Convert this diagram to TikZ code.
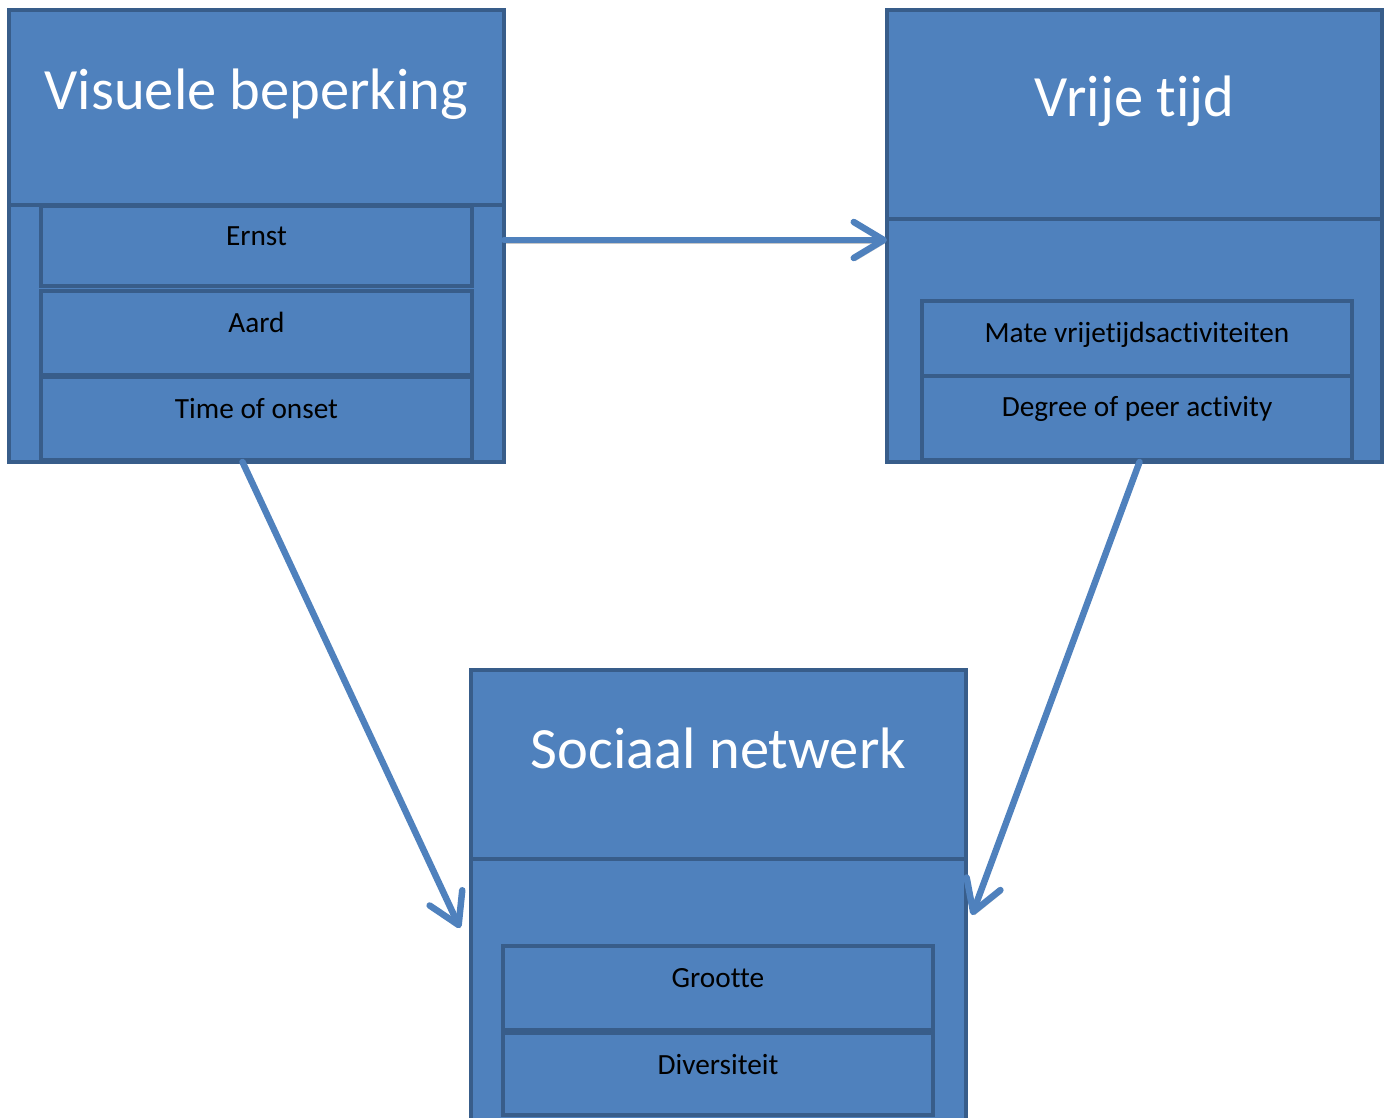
\documentclass[tikz,border=0pt]{standalone}
\usepackage{fontspec}
\setmainfont{Carlito}[Ligatures={NoCommon}]
\usetikzlibrary{arrows.meta,calc}
\definecolor{boxfill}{HTML}{4F81BD}
\definecolor{boxline}{HTML}{385D8A}
\tikzset{
  panel/.style={rectangle, draw=boxline, fill=boxfill, line width=4pt,
    inner sep=0pt, outer sep=0pt, anchor=north west},
  subbox/.style={panel, minimum width=431pt},
  title/.style={text=white, font=\fontsize{58.5}{60}\selectfont, anchor=base, inner sep=0pt},
  item/.style={text=black, font=\fontsize{29.3}{30}\selectfont, anchor=base, inner sep=0pt},
  link/.style={draw=boxfill, line width=6.5pt, line cap=round,
    -{Straight Barb[length=30pt, width=36pt, round]},
    preaction={draw=black, opacity=0.22, transform canvas={shift={(1.5pt,-3pt)}}}}
}
\begin{document}
\begin{tikzpicture}[x=1pt, y=-1pt]
\clip (0,0) rectangle (1384,1118);
\fill[white] (0,0) rectangle (1384,1118);

% Visuele beperking
\node[panel, minimum width=495pt, minimum height=195pt] (lhead) at (9,10) {};
\node[panel, minimum width=495pt, minimum height=257pt] (lbody) at (9,205) {};
\node[subbox, minimum height=80pt] (ernst) at (41,206) {};
\node[subbox, minimum height=84pt] (aard) at (41,291) {};
\node[subbox, minimum height=83pt] (onset) at (41,377) {};
\node[title] (ltitle) at (256.5,110) {Visuele beperking};
\node[item] at ([yshift=-40pt]ernst.north) {Ernst};
\node[item] at ([yshift=-41pt]aard.north) {Aard};
\node[item] at ([yshift=-41pt]onset.north) {Time of onset};

% Vrije tijd
\node[panel, minimum width=495pt, minimum height=209pt] (rhead) at (887,10) {};
\node[panel, minimum width=495pt, minimum height=243pt] (rbody) at (887,219) {};
\node[subbox, minimum width=430pt, minimum height=75pt] (mate) at (922,301) {};
\node[subbox, minimum width=430pt, minimum height=84pt] (peer) at (922,376) {};
\node[title] (rtitle) at (1134.5,117) {Vrije tijd};
\node[item] at ([yshift=-41pt]mate.north) {Mate vrijetijdsactiviteiten};
\node[item] at ([yshift=-40pt]peer.north) {Degree of peer activity};

% Sociaal netwerk
\node[panel, minimum width=495pt, minimum height=189pt] (bhead) at (471,670) {};
\node[panel, minimum width=495pt, minimum height=270pt] (bbody) at (471,859) {};
\node[subbox, minimum width=430pt, minimum height=84pt] (size) at (503,946) {};
\node[subbox, minimum width=430pt, minimum height=82pt] (div) at (503,1033) {};
\node[title] (btitle) at (718.5,768) {Sociaal netwerk};
\node[item] at ([yshift=-41pt]size.north) {Grootte};
\node[item] at ([yshift=-41pt]div.north) {Diversiteit};

% connectors
\draw[link] ([yshift=-35pt]lbody.north east) -- ([yshift=-21pt]rbody.north west);
\draw[link] ([xshift=-14pt]lbody.south) -- ([xshift=-11pt,yshift=-69pt]bbody.north west);
\draw[link] ([xshift=5pt]rbody.south) -- ([xshift=6pt,yshift=-56pt]bbody.north east);
\end{tikzpicture}
\end{document}
